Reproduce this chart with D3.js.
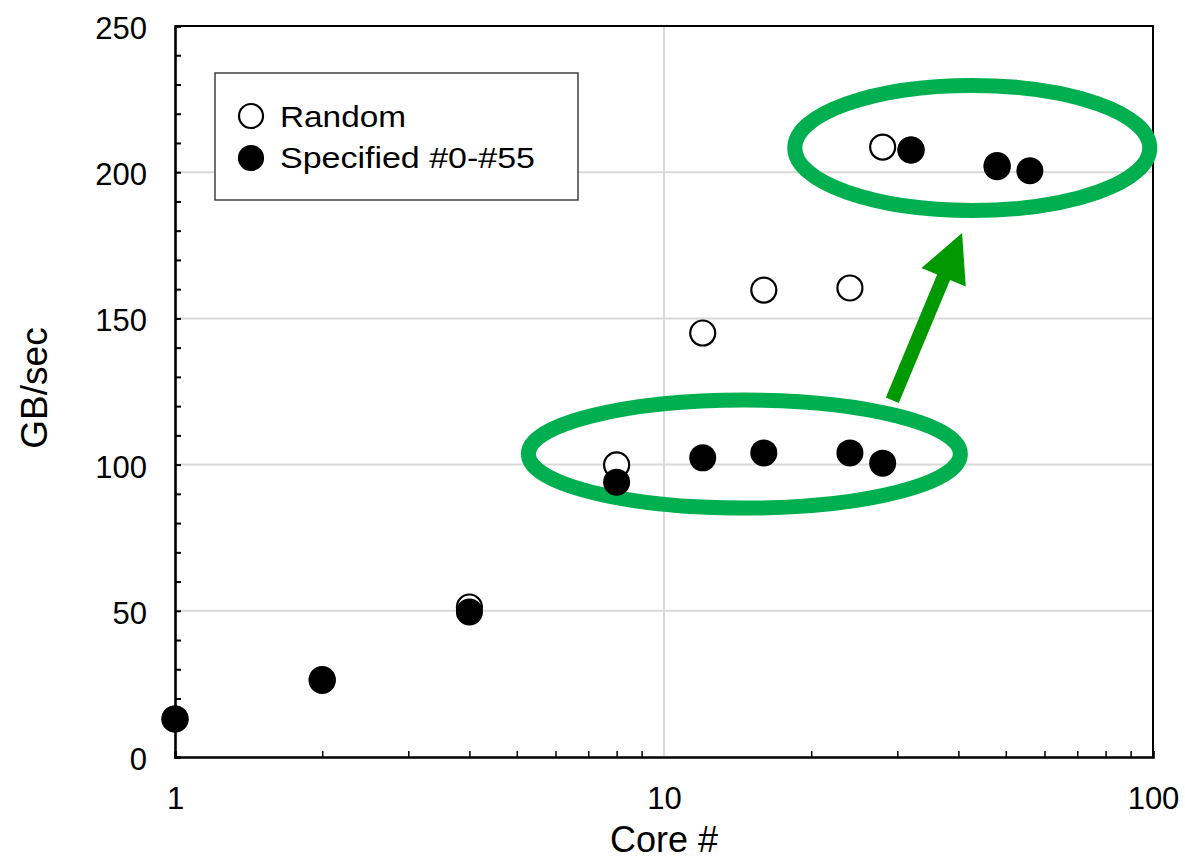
<!DOCTYPE html>
<html>
<head>
<meta charset="utf-8">
<script src="https://cdn.jsdelivr.net/npm/d3@7"></script>
<style>
	body { margin: 0; background: #fff; }
	text { font-family: "Liberation Sans", Arial, sans-serif; fill: #000; }
</style>
</head>
<body>
<div id="chart"></div>
<script>
// data
var cores_random= [1, 2, 4, 8, 12, 16, 24, 28, 32, 48];
var gbs_random= [13, 26.5, 51.3, 99.9, 145, 159.7, 160.4, 208.6, 207.6, 201.9];
var cores_spec= [1, 2, 4, 8, 12, 16, 24, 28, 32, 48, 56];
var gbs_spec= [13, 26.2, 49.6, 94, 102.3, 104, 104, 100.5, 207.6, 202.3, 200.5];

var x_ticks= [1, 10, 100];
var x_minor= [2, 3, 4, 5, 6, 7, 8, 9, 20, 30, 40, 50, 60, 70, 80, 90];
var y_ticks= [0, 50, 100, 150, 200, 250];
var legend_labels= ["Random", "Specified #0-#55"];

// annotations (data coordinates)
var ellipse_centers= [[14.6, 103.6], [42.7, 208.3]];
var arrow_from= [29.3, 122];
var arrow_to= [40.7, 179.2];

var width= 1185, height= 861;
var p_left= 175, p_right= 1153, p_top= 26, p_bottom= 757;

var svg= d3.select("#chart")
		.append("svg")
		.attr("width", width)
		.attr("height", height);

var x= d3.scaleLog().domain([1, 100]).range([p_left, p_right]);
var y= d3.scaleLinear().domain([0, 250]).range([p_bottom, p_top]);

// grid
svg.append("g")
	.selectAll("line")
	.data([50, 100, 150, 200])
	.enter().append("line")
		.attr("x1", p_left).attr("x2", p_right)
		.attr("y1", function(d) { return y(d); })
		.attr("y2", function(d) { return y(d); })
		.attr("stroke", "#d9d9d9")
		.attr("stroke-width", 2);

svg.append("line")
	.attr("x1", x(10)).attr("x2", x(10))
	.attr("y1", y(250)).attr("y2", y(0))
	.attr("stroke", "#d9d9d9")
	.attr("stroke-width", 2);

// frame (top, right)
svg.append("path")
	.attr("d", "M" + p_left + "," + y(250) + "H" + p_right + "V" + y(0))
	.attr("fill", "none")
	.attr("stroke", "#000")
	.attr("stroke-width", 2);

// y minor ticks inside, labels outside
var y_in= svg.append("g")
	.attr("transform", "translate(" + p_left + ",0)")
	.call(d3.axisRight(y).tickValues(d3.range(0, 251, 10)).tickSize(6).tickFormat(""));
y_in.select(".domain").attr("stroke-width", 2.6);
y_in.selectAll(".tick line").attr("stroke-width", 2);

var y_lab= svg.append("g")
	.attr("transform", "translate(" + p_left + ",0)")
	.call(d3.axisLeft(y).tickValues(y_ticks).tickSize(0).tickPadding(28));
y_lab.select(".domain").remove();
y_lab.attr("font-size", 31).attr("font-family", "Liberation Sans, Arial, sans-serif");
y_lab.selectAll("text").attr("dy", "0.4em");

// x minor ticks inside, labels outside
var x_in= svg.append("g")
	.attr("transform", "translate(0," + p_bottom + ")")
	.call(d3.axisTop(x).tickValues(x_minor).tickSize(6).tickFormat(""));
x_in.select(".domain").attr("stroke-width", 2.6);
x_in.selectAll(".tick line").attr("stroke-width", 1.5);

var x_lab= svg.append("g")
	.attr("transform", "translate(0," + p_bottom + ")")
	.call(d3.axisBottom(x).tickValues(x_ticks).tickSize(0).tickPadding(30).tickFormat(d3.format("d")));
x_lab.select(".domain").remove();
x_lab.attr("font-size", 31).attr("font-family", "Liberation Sans, Arial, sans-serif");

// axis titles
svg.append("text")
	.attr("x", x(10))
	.attr("y", 852)
	.attr("text-anchor", "middle")
	.attr("font-size", 36)
	.text("Core #");

svg.append("text")
	.attr("transform", "translate(47,388) rotate(-90)")
	.attr("text-anchor", "middle")
	.attr("font-size", 37)
	.text("GB/sec");

// legend
var legend= svg.append("g");
legend.append("rect")
	.attr("x", 215).attr("y", 73)
	.attr("width", 363).attr("height", 127)
	.attr("fill", "#fff")
	.attr("stroke", "#404040")
	.attr("stroke-width", 1.5);

var leg_len= [126, 255];
for ((i= 0); (i< 2); (i++)) {
	legend.append("circle")
		.attr("cx", 251)
		.attr("cy", 116+ i*42)
		.attr("r", 12)
		.attr("fill", i== 0 ? "#fff" : "#000")
		.attr("stroke", "#000")
		.attr("stroke-width", 2.2);

	legend.append("text")
		.attr("x", 280)
		.attr("y", 127+ i*41)
		.attr("font-size", 29)
		.attr("textLength", leg_len[i])
		.attr("lengthAdjust", "spacingAndGlyphs")
		.text(legend_labels[i]);
}

// green ellipses
var radii= [[216, 54], [177.5, 62.5]];
svg.append("g")
	.selectAll("ellipse")
	.data(ellipse_centers)
	.enter().append("ellipse")
		.attr("cx", function(d) { return x(d[0]); })
		.attr("cy", function(d) { return y(d[1]); })
		.attr("rx", function(d, i) { return radii[i][0]; })
		.attr("ry", function(d, i) { return radii[i][1]; })
		.attr("fill", "none")
		.attr("stroke", "#00b050")
		.attr("stroke-width", 15);

// arrow
var x0= x(arrow_from[0]), y0= y(arrow_from[1]);
var x1= x(arrow_to[0]), y1= y(arrow_to[1]);
var len= Math.sqrt((x1- x0)*(x1- x0)+ (y1- y0)*(y1- y0));
var ux= (x1- x0)/len, uy= (y1- y0)/len;
var px= -uy, py= ux;
var hl= 48, hw= 24, sw= 7;
var bx= x1- ux*hl, by= y1- uy*hl;
var pts= [
	[x0+ px*sw, y0+ py*sw],
	[bx+ px*sw, by+ py*sw],
	[bx+ px*hw, by+ py*hw],
	[x1, y1],
	[bx- px*hw, by- py*hw],
	[bx- px*sw, by- py*sw],
	[x0- px*sw, y0- py*sw]
];
svg.append("polygon")
	.attr("points", pts.map(function(p) { return p.join(","); }).join(" "))
	.attr("fill", "#009900");

// points
svg.append("g")
	.selectAll("circle")
	.data(d3.zip(cores_random, gbs_random))
	.enter().append("circle")
		.attr("cx", function(d) { return x(d[0]); })
		.attr("cy", function(d) { return y(d[1]); })
		.attr("r", 12.5)
		.attr("fill", "#fff")
		.attr("stroke", "#000")
		.attr("stroke-width", 2.2);

svg.append("g")
	.selectAll("circle")
	.data(d3.zip(cores_spec, gbs_spec))
	.enter().append("circle")
		.attr("cx", function(d) { return x(d[0]); })
		.attr("cy", function(d) { return y(d[1]); })
		.attr("r", 13.5)
		.attr("fill", "#000");
</script>
</body>
</html>
